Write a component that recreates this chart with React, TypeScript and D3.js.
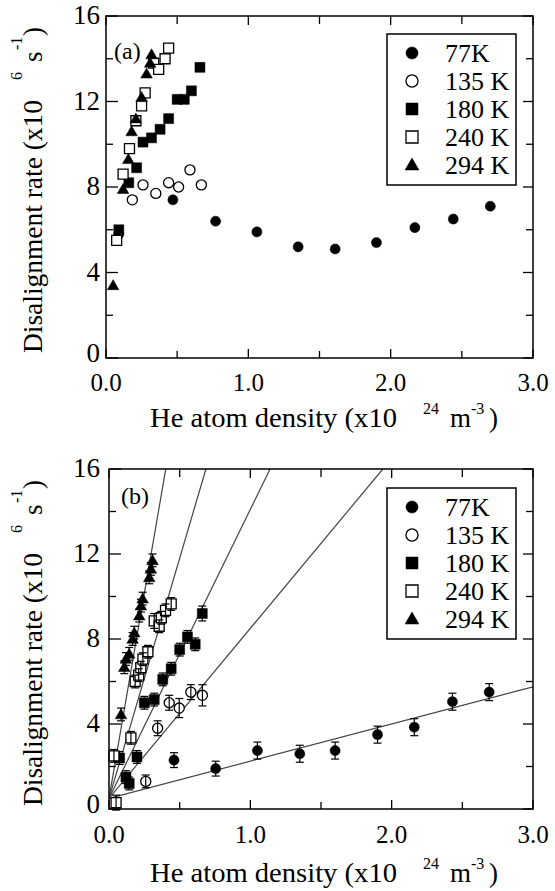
import React from 'react';
import * as d3 from 'd3';

// series meta
const seriesNames = ['77K', '135 K', '180 K', '240 K', '294 K'];
const seriesShapes = ['circle', 'circle', 'square', 'square', 'triangle'];
const seriesFilled = [true, false, true, false, true];

// axis ticks
const xMajor = [0, 1, 2, 3];
const xMinor = [0.5, 1.5, 2.5];
const xTickLabels = ['0.0', '1.0', '2.0', '3.0'];
const yMajor = [0, 4, 8, 12, 16];
const yMinor = [2, 6, 10, 14];
const yTickLabels = ['0', '4', '8', '12', '16'];

// panel (a)
const a77x = [0.09, 0.47, 0.77, 1.06, 1.35, 1.61, 1.9, 2.17, 2.44, 2.7];
const a77y = [5.8, 7.4, 6.4, 5.9, 5.2, 5.1, 5.4, 6.1, 6.5, 7.1];
const a135x = [0.185, 0.26, 0.35, 0.44, 0.51, 0.59, 0.67];
const a135y = [7.4, 8.1, 7.7, 8.2, 8.0, 8.8, 8.1];
const a180x = [0.09, 0.16, 0.215, 0.26, 0.32, 0.38, 0.44, 0.5, 0.55, 0.6, 0.66];
const a180y = [6.0, 8.2, 8.9, 10.1, 10.3, 10.7, 11.2, 12.1, 12.1, 12.5, 13.6];
const a240x = [0.075, 0.12, 0.165, 0.21, 0.25, 0.275, 0.335, 0.37, 0.415, 0.44];
const a240y = [5.5, 8.6, 9.8, 11.1, 11.8, 12.4, 13.8, 13.5, 14.0, 14.5];
const a294x = [0.05, 0.12, 0.157, 0.18, 0.21, 0.25, 0.285, 0.31, 0.32];
const a294y = [3.4, 7.9, 9.3, 10.6, 11.2, 12.2, 13.3, 13.8, 14.2];

// panel (b)
const b77x = [0.46, 0.755, 1.05, 1.35, 1.6, 1.9, 2.16, 2.43, 2.69];
const b77y = [2.3, 1.9, 2.75, 2.6, 2.75, 3.5, 3.85, 5.05, 5.5];
const b77e = [0.35, 0.35, 0.4, 0.4, 0.4, 0.4, 0.4, 0.4, 0.4];
const b135x = [0.26, 0.344, 0.426, 0.497, 0.579, 0.661];
const b135y = [1.3, 3.8, 5.0, 4.75, 5.5, 5.35];
const b135e = [0.3, 0.35, 0.35, 0.45, 0.35, 0.5];
const b180x = [0.075, 0.12, 0.143, 0.198, 0.25, 0.32, 0.38, 0.44, 0.5, 0.555, 0.61, 0.66];
const b180y = [2.4, 1.5, 1.2, 2.45, 5.0, 5.15, 6.1, 6.6, 7.5, 8.1, 7.75, 9.2];
const b180e = [0.3, 0.3, 0.3, 0.3, 0.3, 0.3, 0.3, 0.3, 0.3, 0.3, 0.3, 0.35];
const b240x = [0.035, 0.05, 0.155, 0.185, 0.21, 0.225, 0.24, 0.275, 0.32, 0.355, 0.37, 0.4, 0.44];
const b240y = [2.5, 0.3, 3.35, 6.0, 6.3, 6.65, 7.05, 7.4, 8.85, 8.6, 9.0, 9.35, 9.65];
const b240e = [0.3, 0.35, 0.3, 0.3, 0.3, 0.3, 0.3, 0.3, 0.35, 0.3, 0.3, 0.3, 0.3];
const b294x = [0.085, 0.108, 0.12, 0.143, 0.167, 0.179, 0.214, 0.226, 0.238, 0.285, 0.296, 0.308];
const b294y = [4.45, 6.67, 7.06, 7.3, 8.0, 8.3, 9.1, 9.57, 9.9, 10.9, 11.3, 11.7];
const b294e = [0.3, 0.3, 0.3, 0.3, 0.3, 0.3, 0.3, 0.3, 0.3, 0.3, 0.3, 0.3];

// linear fits in panel (b)
const fitSlope = [1.75, 8.0, 13.6, 22.6, 38.6];
const fitIntercept = [0.5, 0.5, 0.5, 0.5, 0.5];

const FONT = '"Liberation Serif", "Times New Roman", serif';

type Series = { x: number[]; y: number[]; e?: number[] };

const Marker = ({ shape, filled, cx, cy, scale = 1 }) => {
  const size = shape === 'circle' ? 80 : shape === 'square' ? 100 : 58;
  const type = shape === 'circle' ? d3.symbolCircle : shape === 'square' ? d3.symbolSquare : d3.symbolTriangle;
  const d = d3.symbol().type(type).size(size * scale * scale)();
  return (
    <path
      d={d}
      transform={`translate(${cx},${cy + (shape === 'triangle' ? 1 : 0)})`}
      fill={filled ? '#000' : '#fff'}
      stroke="#000"
      strokeWidth={filled ? 0.5 : 1.3}
    />
  );
};

const Panel = ({ id, box, series, fits, label, labelPos, legend, tickBase, titleBase }) => {
  const { left, right, top, bottom } = box;
  const xs = d3.scaleLinear().domain([0, 3]).range([left, right]);
  const ys = d3.scaleLinear().domain([0, 16]).range([bottom, top]);
  const line = d3.line<[number, number]>().x(d => xs(d[0])).y(d => ys(d[1]));

  const shiftY = top - 16;
  const yTitleX = 42;
  const yTitleY = 353 + shiftY;

  return (
    <g fontFamily={FONT} fill="#000">
      <defs>
        <clipPath id={`clip-${id}`}>
          <rect x={left} y={top} width={right - left} height={bottom - top} />
        </clipPath>
      </defs>

      {/* fits */}
      {fits && (
        <g clipPath={`url(#clip-${id})`}>
          {fits.slope.map((s, i) => {
            const b = fits.intercept[i];
            const xEnd = Math.min(3, (16 - b) / s);
            return (
              <path key={i} d={line([[0, b], [xEnd, b + s * xEnd]])} stroke="#444" strokeWidth={1.2} fill="none" />
            );
          })}
        </g>
      )}

      {/* data */}
      {series.map((s: Series, i) => (
        <g key={i}>
          {s.x.map((xv, j) => (
            <Marker key={j} shape={seriesShapes[i]} filled={seriesFilled[i]} cx={xs(xv)} cy={ys(s.y[j])} />
          ))}
          {s.e && s.x.map((xv, j) => {
            const cx = xs(xv);
            const y1 = ys(s.y[j] - s.e[j]);
            const y2 = ys(s.y[j] + s.e[j]);
            return (
              <g key={`e${j}`} stroke="#000" strokeWidth={1.2}>
                <line x1={cx} x2={cx} y1={y1} y2={y2} />
                <line x1={cx - 4} x2={cx + 4} y1={y1} y2={y1} />
                <line x1={cx - 4} x2={cx + 4} y1={y2} y2={y2} />
              </g>
            );
          })}
        </g>
      ))}

      {/* frame and ticks */}
      <rect x={left} y={top} width={right - left} height={bottom - top} fill="none" stroke="#000" strokeWidth={1.5} />
      <g stroke="#000" strokeWidth={1.3}>
        {xMajor.map(v => (
          <g key={`xM${v}`}>
            <line x1={xs(v)} x2={xs(v)} y1={bottom} y2={bottom - 9} />
            <line x1={xs(v)} x2={xs(v)} y1={top} y2={top + 9} />
          </g>
        ))}
        {xMinor.map(v => (
          <g key={`xm${v}`}>
            <line x1={xs(v)} x2={xs(v)} y1={bottom} y2={bottom - 7} />
            <line x1={xs(v)} x2={xs(v)} y1={top} y2={top + 8} />
          </g>
        ))}
        {yMajor.map(v => (
          <g key={`yM${v}`}>
            <line x1={left} x2={left + 12} y1={ys(v)} y2={ys(v)} />
            <line x1={right} x2={right - 10} y1={ys(v)} y2={ys(v)} />
          </g>
        ))}
        {yMinor.map(v => (
          <g key={`ym${v}`}>
            <line x1={left} x2={left + 7} y1={ys(v)} y2={ys(v)} />
            <line x1={right} x2={right - 7} y1={ys(v)} y2={ys(v)} />
          </g>
        ))}
      </g>

      {/* tick labels */}
      {xMajor.map((v, i) => (
        <text key={`xl${v}`} x={xs(v)} y={tickBase} textAnchor="middle" fontSize={25}>{xTickLabels[i]}</text>
      ))}
      {yMajor.map((v, i) => (
        <text key={`yl${v}`} x={100} y={ys(v) + (v === 0 ? 4 : 8)} textAnchor="end" fontSize={27}>{yTickLabels[i]}</text>
      ))}

      {/* panel label */}
      <text x={labelPos[0]} y={labelPos[1]} fontSize={24}>{label}</text>

      {/* legend */}
      <rect x={legend.x} y={legend.y} width={129} height={151} fill="#fff" stroke="#000" strokeWidth={1.5} />
      {seriesNames.map((n, i) => {
        const cy = legend.y + 19 + i * 28;
        return (
          <g key={n}>
            <Marker shape={seriesShapes[i]} filled={seriesFilled[i]} cx={legend.x + 25} cy={cy} scale={1.2} />
            <text x={legend.x + 58} y={cy + 9} fontSize={26}>{n}</text>
          </g>
        );
      })}

      {/* x title */}
      <text y={titleBase} fontSize={27}>
        <tspan x={150} textLength={247} lengthAdjust="spacingAndGlyphs">He atom density (x10</tspan>
      </text>
      <text x={423} y={titleBase - 13} fontSize={16}>24</text>
      <text x={450} y={titleBase} fontSize={27}>m</text>
      <text x={471} y={titleBase - 13} fontSize={16}>-3</text>
      <text x={489} y={titleBase} fontSize={27}>)</text>

      {/* y title */}
      <g transform={`translate(${yTitleX},${yTitleY}) rotate(-90)`}>
        <text x={0} y={0} fontSize={27} textLength={253} lengthAdjust="spacingAndGlyphs">Disalignment rate (x10</text>
        <text x={273} y={-20} fontSize={16}>6</text>
        <text x={291} y={0} fontSize={27}>s</text>
        <text x={303} y={-20} fontSize={16}>-1</text>
        <text x={317} y={0} fontSize={27}>)</text>
      </g>
    </g>
  );
};

export default function App() {
  const seriesA: Series[] = [
    { x: a77x, y: a77y },
    { x: a135x, y: a135y },
    { x: a180x, y: a180y },
    { x: a240x, y: a240y },
    { x: a294x, y: a294y },
  ];
  const seriesB: Series[] = [
    { x: b77x, y: b77y, e: b77e },
    { x: b135x, y: b135y, e: b135e },
    { x: b180x, y: b180y, e: b180e },
    { x: b240x, y: b240y, e: b240e },
    { x: b294x, y: b294y, e: b294e },
  ];
  return (
    <svg width={555} height={891} style={{ position: 'absolute', left: 0, top: 0, background: '#fff' }}>
      <rect width={555} height={891} fill="#fff" />
      <Panel
        id="a"
        box={{ left: 106, right: 533, top: 16, bottom: 358 }}
        series={seriesA}
        fits={null}
        label="(a)"
        labelPos={[114, 59]}
        legend={{ x: 387, y: 34 }}
        tickBase={391}
        titleBase={427}
      />
      <Panel
        id="b"
        box={{ left: 109, right: 533, top: 469, bottom: 809 }}
        series={seriesB}
        fits={{ slope: fitSlope, intercept: fitIntercept }}
        label="(b)"
        labelPos={[121, 504]}
        legend={{ x: 387, y: 488 }}
        tickBase={843}
        titleBase={882}
      />
    </svg>
  );
}
